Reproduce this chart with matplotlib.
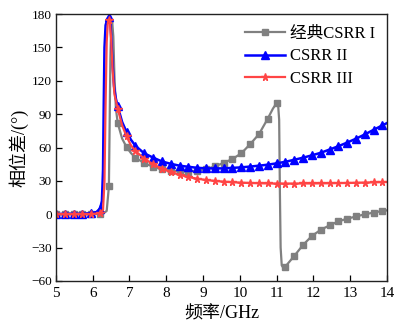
import numpy as np
import matplotlib
matplotlib.use('Agg')
import matplotlib.pyplot as plt

plt.rcParams['font.family'] = ['Liberation Serif', 'Noto Sans CJK SC']
plt.rcParams['axes.unicode_minus'] = True

# frequency (GHz) / phase difference (deg)
f_gray = [5.00, 5.24, 5.48, 5.72, 5.96, 6.20, 6.30, 6.38, 6.44, 6.46, 6.48, 6.50, 6.53,
          6.56, 6.59, 6.63, 6.68, 6.80, 6.92, 7.04, 7.16, 7.40, 7.64, 7.88, 8.12, 8.36,
          8.60, 8.84, 9.08, 9.32, 9.56, 9.80, 10.04, 10.28, 10.52, 10.76, 10.90, 11.00,
          11.04, 11.07, 11.09, 11.11, 11.14, 11.18, 11.24, 11.48, 11.72, 11.96, 12.20,
          12.44, 12.68, 12.92, 13.16, 13.40, 13.64, 13.88, 14.00]
v_gray = [0, 0, 0, 0, 0, 0.5, 1, 3, 25, 80, 140, 168, 173,
          160, 125, 95, 82, 68, 60.5, 55, 51, 46, 42.8, 40.4, 39.2, 38.5,
          38.3, 39.2, 40.7, 43, 46.3, 49.7, 54.8, 63, 72, 86, 95, 100,
          99, 85, 20, -30, -46, -48, -47, -37.5, -27.6, -19.5, -14,
          -10, -6.4, -4, -2, 0, 1.5, 3, 3.5]

f_blue = [5.00, 5.24, 5.48, 5.72, 5.96, 6.10, 6.20, 6.25, 6.28, 6.30, 6.32, 6.35, 6.40,
          6.44, 6.48, 6.51, 6.54, 6.58, 6.63, 6.68, 6.80, 6.92, 7.04, 7.16, 7.40, 7.64,
          7.88, 8.12, 8.36, 8.60, 8.84, 9.08, 9.32, 9.56, 9.80, 10.04, 10.28, 10.52,
          10.76, 11.00, 11.24, 11.48, 11.72, 11.96, 12.20, 12.44, 12.68, 12.92, 13.16,
          13.40, 13.64, 13.88, 14.00]
v_blue = [0, 0.5, 0.5, 0.5, 1, 2, 5, 12, 40, 100, 150, 170, 176,
          177, 173, 155, 135, 115, 104, 97, 83, 74, 67, 61.6, 54.8, 51,
          47.5, 45.4, 43.7, 42.7, 41.8, 41.3, 41.2, 41.3, 41.7, 42.2, 42.9, 43.7,
          44.6, 45.8, 47.2, 49, 50.9, 53, 55.3, 58.2, 61.2, 64.5, 68,
          71.8, 76, 80, 82]

f_red = [5.00, 5.24, 5.48, 5.72, 5.96, 6.20, 6.28, 6.32, 6.35, 6.38, 6.41, 6.44, 6.47,
         6.50, 6.54, 6.59, 6.68, 6.80, 6.92, 7.04, 7.16, 7.40, 7.64, 7.88, 8.12, 8.36,
         8.60, 8.84, 9.08, 9.32, 9.56, 9.80, 10.04, 10.28, 10.52, 10.76, 11.00, 11.24,
         11.48, 11.72, 11.96, 12.20, 12.44, 12.68, 12.92, 13.16, 13.40, 13.64, 13.88, 14.00]
v_red = [0, 0, 0, 0, 0, 1, 4, 30, 100, 155, 172, 175, 172,
         158, 130, 108, 95, 80, 70, 62, 57, 50, 45, 41, 38, 35.5,
         33.5, 32, 30.8, 30, 29.3, 28.8, 28.4, 28.1, 27.9, 27.7, 27.6, 27.6,
         27.6, 27.7, 27.7, 27.8, 27.9, 28, 28.1, 28.3, 28.5, 28.7, 28.9, 29]

labels = ['经典CSRR I', 'CSRR II', 'CSRR III']
x_ticks = list(range(5, 15))
y_ticks = list(range(-60, 181, 30))

MARK_STEP = 0.24


def marker_idx(freqs):
    # markers sit on the 0.24 GHz sampling grid of the original data
    out = []
    for i, f in enumerate(freqs):
        k = (f - 5.0) / MARK_STEP
        if abs(k - round(k)) < 1e-6:
            out.append(i)
    return out


fig = plt.figure(figsize=(3.94, 3.29), dpi=100)
ax = fig.add_axes([0.142, 0.146, 0.840, 0.811])

ax.plot(f_gray, v_gray, color='#808080', lw=1.6, marker='s', ms=4,
        markevery=marker_idx(f_gray), label=labels[0])
ax.plot(f_blue, v_blue, color='#0000ff', lw=1.8, marker='^', ms=5.5,
        markevery=marker_idx(f_blue), label=labels[1])
ax.plot(f_red, v_red, color='#ff4545', lw=1.6, marker='*', ms=5.5,
        markevery=marker_idx(f_red), label=labels[2])

ax.set_xlim(5, 14)
ax.set_ylim(-60, 180)
ax.set_xticks(x_ticks)
ax.set_yticks(y_ticks)
ax.tick_params(axis='x', direction='in', length=4, width=0.9, labelsize=11, pad=4)
ax.tick_params(axis='y', direction='in', length=4, width=0.9, labelsize=9.5, pad=3)
for s in ax.spines.values():
    s.set_color('#222222')
    s.set_linewidth(1.0)

ax.set_xlabel('频率/GHz', fontsize=13, labelpad=4)
ax.set_ylabel('相位差/(°)', fontsize=13, labelpad=2)

ax.legend(loc='upper right', frameon=False, fontsize=12, handlelength=2.4,
          handletextpad=0.3, labelspacing=0.4, borderaxespad=0.3,
          bbox_to_anchor=(1.0, 1.0))

fig.savefig('out.png', dpi=100)
